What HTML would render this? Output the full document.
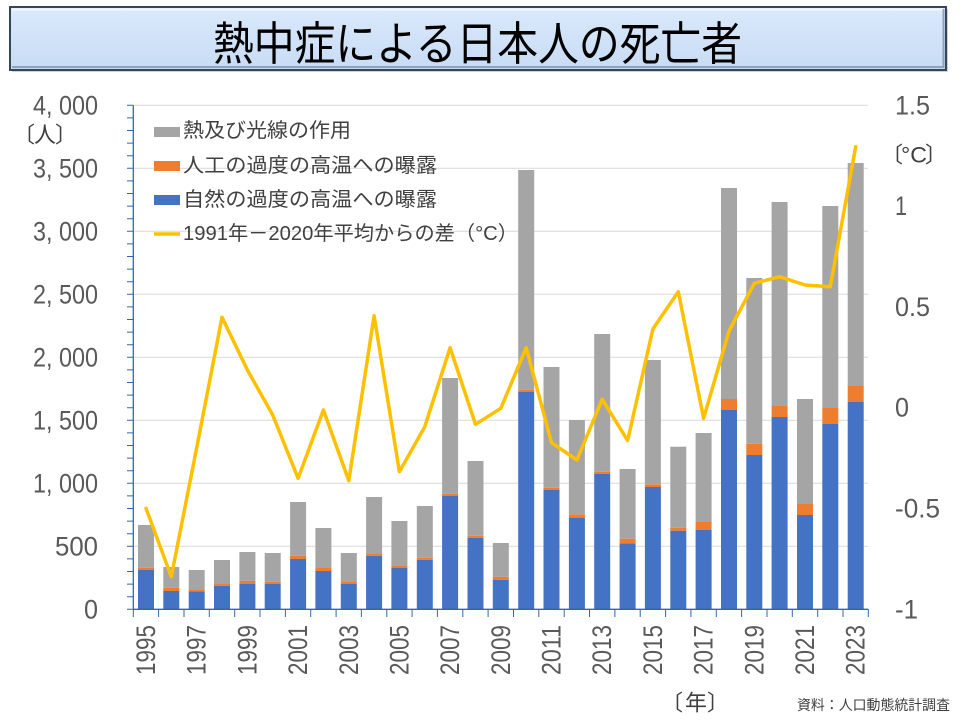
<!DOCTYPE html>
<html>
<head>
<meta charset="utf-8">
<style>
html,body{margin:0;padding:0;background:#fff;}
svg{display:block;}
.jp{font-family:"Liberation Sans","Noto Sans CJK JP",sans-serif;}
.num{font-family:"Liberation Sans",sans-serif;fill:#595959;font-size:27px;}
</style>
</head>
<body>
<svg width="960" height="720" viewBox="0 0 960 720" xmlns="http://www.w3.org/2000/svg">
<defs>
<linearGradient id="tg" x1="0" y1="0" x2="0" y2="1">
<stop offset="0" stop-color="#dbe9fb"/>
<stop offset="1" stop-color="#c7dcf5"/>
</linearGradient>
</defs>

<!-- Title box -->
<rect x="12" y="9" width="936" height="63" fill="#9aa6b4" opacity="0.5"/>
<rect x="10" y="7" width="936" height="63" fill="url(#tg)" stroke="#34465a" stroke-width="2"/>
<line x1="12" y1="9.5" x2="944" y2="9.5" stroke="#f4f8fe" stroke-width="2"/>
<line x1="12" y1="67" x2="944" y2="67" stroke="#8ea2bb" stroke-width="2"/>
<line x1="943.5" y1="9" x2="943.5" y2="68" stroke="#8ea2bb" stroke-width="2"/>
<text x="477.5" y="44" class="jp" font-size="46" fill="#000" text-anchor="middle" dominant-baseline="central" textLength="529" lengthAdjust="spacingAndGlyphs">熱中症による日本人の死亡者</text>

<!-- Gridlines -->
<g stroke="#d9d9d9" stroke-width="1">
<line x1="133" y1="105.3" x2="868" y2="105.3"/>
<line x1="133" y1="168.3" x2="868" y2="168.3"/>
<line x1="133" y1="231.3" x2="868" y2="231.3"/>
<line x1="133" y1="294.3" x2="868" y2="294.3"/>
<line x1="133" y1="357.3" x2="868" y2="357.3"/>
<line x1="133" y1="420.3" x2="868" y2="420.3"/>
<line x1="133" y1="483.3" x2="868" y2="483.3"/>
<line x1="133" y1="546.3" x2="868" y2="546.3"/>
</g>

<!-- Bars: blue -->
<g fill="#4472c4">
<rect x="138.0" y="570" width="16" height="39.3"/>
<rect x="163.3" y="591" width="16" height="18.3"/>
<rect x="188.7" y="591.3" width="16" height="18"/>
<rect x="214.0" y="585.7" width="16" height="23.6"/>
<rect x="239.4" y="584" width="16" height="25.3"/>
<rect x="264.7" y="584" width="16" height="25.3"/>
<rect x="290.1" y="559" width="16" height="50.3"/>
<rect x="315.4" y="571" width="16" height="38.3"/>
<rect x="340.8" y="584" width="16" height="25.3"/>
<rect x="366.1" y="555.7" width="16" height="53.6"/>
<rect x="391.4" y="568" width="16" height="41.3"/>
<rect x="416.8" y="559.7" width="16" height="49.6"/>
<rect x="442.1" y="496" width="16" height="113.3"/>
<rect x="467.5" y="537.7" width="16" height="71.6"/>
<rect x="492.8" y="579.7" width="16" height="29.6"/>
<rect x="518.2" y="392" width="16" height="217.3"/>
<rect x="543.5" y="490" width="16" height="119.3"/>
<rect x="568.9" y="518" width="16" height="91.3"/>
<rect x="594.2" y="474" width="16" height="135.3"/>
<rect x="619.6" y="543.3" width="16" height="66"/>
<rect x="644.9" y="487" width="16" height="122.3"/>
<rect x="670.3" y="530.7" width="16" height="78.6"/>
<rect x="695.6" y="530" width="16" height="79.3"/>
<rect x="721.0" y="410" width="16" height="199.3"/>
<rect x="746.3" y="455" width="16" height="154.3"/>
<rect x="771.6" y="417" width="16" height="192.3"/>
<rect x="797.0" y="515" width="16" height="94.3"/>
<rect x="822.3" y="424" width="16" height="185.3"/>
<rect x="847.7" y="402" width="16" height="207.3"/>
</g>
<!-- Bars: orange -->
<g fill="#ed7d31">
<rect x="138.0" y="567.7" width="16" height="2.3"/>
<rect x="163.3" y="587.7" width="16" height="3.3"/>
<rect x="188.7" y="590" width="16" height="1.3"/>
<rect x="214.0" y="584" width="16" height="1.7"/>
<rect x="239.4" y="580.7" width="16" height="3.3"/>
<rect x="264.7" y="581.7" width="16" height="2.3"/>
<rect x="290.1" y="555.7" width="16" height="3.3"/>
<rect x="315.4" y="568" width="16" height="3"/>
<rect x="340.8" y="581.3" width="16" height="2.7"/>
<rect x="366.1" y="554" width="16" height="1.7"/>
<rect x="391.4" y="566" width="16" height="2"/>
<rect x="416.8" y="557.7" width="16" height="2"/>
<rect x="442.1" y="493.7" width="16" height="2.3"/>
<rect x="467.5" y="535.7" width="16" height="2"/>
<rect x="492.8" y="576.7" width="16" height="3"/>
<rect x="518.2" y="389.7" width="16" height="2.3"/>
<rect x="543.5" y="487.7" width="16" height="2.3"/>
<rect x="568.9" y="514.3" width="16" height="3.7"/>
<rect x="594.2" y="471.7" width="16" height="2.3"/>
<rect x="619.6" y="538.7" width="16" height="4.6"/>
<rect x="644.9" y="484.3" width="16" height="2.7"/>
<rect x="670.3" y="527.7" width="16" height="3"/>
<rect x="695.6" y="522" width="16" height="8"/>
<rect x="721.0" y="399" width="16" height="11"/>
<rect x="746.3" y="443.7" width="16" height="11.3"/>
<rect x="771.6" y="406" width="16" height="11"/>
<rect x="797.0" y="504" width="16" height="11"/>
<rect x="822.3" y="408" width="16" height="16"/>
<rect x="847.7" y="386" width="16" height="16"/>
</g>
<!-- Bars: gray -->
<g fill="#a5a5a5">
<rect x="138.0" y="525" width="16" height="42.7"/>
<rect x="163.3" y="567" width="16" height="20.7"/>
<rect x="188.7" y="570" width="16" height="20"/>
<rect x="214.0" y="560" width="16" height="24"/>
<rect x="239.4" y="552" width="16" height="28.7"/>
<rect x="264.7" y="553" width="16" height="28.7"/>
<rect x="290.1" y="502" width="16" height="53.7"/>
<rect x="315.4" y="528" width="16" height="40"/>
<rect x="340.8" y="553" width="16" height="28.3"/>
<rect x="366.1" y="497" width="16" height="57"/>
<rect x="391.4" y="521" width="16" height="45"/>
<rect x="416.8" y="506" width="16" height="51.7"/>
<rect x="442.1" y="378" width="16" height="115.7"/>
<rect x="467.5" y="461" width="16" height="74.7"/>
<rect x="492.8" y="543" width="16" height="33.7"/>
<rect x="518.2" y="170" width="16" height="219.7"/>
<rect x="543.5" y="367" width="16" height="120.7"/>
<rect x="568.9" y="420" width="16" height="94.3"/>
<rect x="594.2" y="334" width="16" height="137.7"/>
<rect x="619.6" y="469" width="16" height="69.7"/>
<rect x="644.9" y="360" width="16" height="124.3"/>
<rect x="670.3" y="446.7" width="16" height="81"/>
<rect x="695.6" y="433" width="16" height="89"/>
<rect x="721.0" y="188" width="16" height="211"/>
<rect x="746.3" y="278" width="16" height="165.7"/>
<rect x="771.6" y="202" width="16" height="204"/>
<rect x="797.0" y="399" width="16" height="105"/>
<rect x="822.3" y="206" width="16" height="202"/>
<rect x="847.7" y="163" width="16" height="223"/>
</g>

<!-- Line -->
<polyline fill="none" stroke="#ffc000" stroke-width="3.5" stroke-linejoin="round" stroke-linecap="round"
points="146.0,508.3 171.3,576.7 196.7,447.7 222.0,317.3 247.4,370 272.7,415 298.1,478.3 323.4,410 348.8,480.7 374.1,315.7 399.4,471.7 424.8,426.7 450.1,347.7 475.5,424.3 500.8,408.3 526.2,347.7 551.5,442.7 576.9,460 602.2,399.3 627.6,440.5 652.9,329 678.3,291.7 703.6,418.3 729.0,331 754.3,283.3 779.6,276.7 805.0,285 830.3,286.7 855.7,146.7"/>

<!-- Left axis -->
<g stroke="#3565b0" stroke-width="1.3">
<line x1="133.3" y1="105.3" x2="133.3" y2="609.3"/>
<line x1="133" y1="609.3" x2="868" y2="609.3"/>
</g>
<g stroke="#3565b0" stroke-width="1">
<path d="M127 609.3H133M127 596.7H133M127 584.1H133M127 571.5H133M127 558.9H133M127 546.3H133M127 533.7H133M127 521.1H133M127 508.5H133M127 495.9H133M127 483.3H133M127 470.7H133M127 458.1H133M127 445.5H133M127 432.9H133M127 420.3H133M127 407.7H133M127 395.1H133M127 382.5H133M127 369.9H133M127 357.3H133M127 344.7H133M127 332.1H133M127 319.5H133M127 306.9H133M127 294.3H133M127 281.7H133M127 269.1H133M127 256.5H133M127 243.9H133M127 231.3H133M127 218.7H133M127 206.1H133M127 193.5H133M127 180.9H133M127 168.3H133M127 155.7H133M127 143.1H133M127 130.5H133M127 117.9H133M127 105.3H133"/>
<path d="M133.3 609V617M158.6 609V617M184.0 609V617M209.3 609V617M234.7 609V617M260.0 609V617M285.4 609V617M310.7 609V617M336.1 609V617M361.4 609V617M386.8 609V617M412.1 609V617M437.4 609V617M462.8 609V617M488.1 609V617M513.5 609V617M538.8 609V617M564.2 609V617M589.5 609V617M614.9 609V617M640.2 609V617M665.6 609V617M690.9 609V617M716.3 609V617M741.6 609V617M767.0 609V617M792.3 609V617M817.7 609V617M843.0 609V617M868.3 609V617"/>
</g>

<!-- Left labels -->
<g class="num" text-anchor="end" dominant-baseline="central">
<text x="98" y="105.3" textLength="65" lengthAdjust="spacingAndGlyphs">4, 000</text>
<text x="98" y="168.3" textLength="65" lengthAdjust="spacingAndGlyphs">3, 500</text>
<text x="98" y="231.3" textLength="65" lengthAdjust="spacingAndGlyphs">3, 000</text>
<text x="98" y="294.3" textLength="65" lengthAdjust="spacingAndGlyphs">2, 500</text>
<text x="98" y="357.3" textLength="65" lengthAdjust="spacingAndGlyphs">2, 000</text>
<text x="98" y="420.3" textLength="65" lengthAdjust="spacingAndGlyphs">1, 500</text>
<text x="98" y="483.3" textLength="65" lengthAdjust="spacingAndGlyphs">1, 000</text>
<text x="98" y="546.3" textLength="43" lengthAdjust="spacingAndGlyphs">500</text>
<text x="98" y="609.3" textLength="14" lengthAdjust="spacingAndGlyphs">0</text>
</g>
<g class="jp" font-size="22" fill="#404040" dominant-baseline="central" text-anchor="middle">
<text x="24" y="135">〔</text>
<text x="45" y="135">人</text>
<text x="66" y="135">〕</text>
</g>

<!-- Right labels -->
<g class="num" text-anchor="start" dominant-baseline="central">
<text x="895" y="105.3" textLength="35" lengthAdjust="spacingAndGlyphs">1.5</text>
<text x="895" y="206.1" textLength="12" lengthAdjust="spacingAndGlyphs">1</text>
<text x="895" y="306.9" textLength="35" lengthAdjust="spacingAndGlyphs">0.5</text>
<text x="895" y="407.7" textLength="14" lengthAdjust="spacingAndGlyphs">0</text>
<text x="895" y="508.5" textLength="45" lengthAdjust="spacingAndGlyphs">-0.5</text>
<text x="895" y="609.3" textLength="23" lengthAdjust="spacingAndGlyphs">-1</text>
</g>
<g class="jp" font-size="22" fill="#404040" dominant-baseline="central">
<text x="892" y="155" text-anchor="middle">〔</text>
<text x="901" y="155" textLength="26" lengthAdjust="spacingAndGlyphs">°C</text>
<text x="936" y="155" text-anchor="middle">〕</text>
</g>

<!-- Year labels -->
<g class="num" text-anchor="end" dominant-baseline="central">
<text transform="translate(146.0,625) rotate(-90)" textLength="50" lengthAdjust="spacingAndGlyphs">1995</text>
<text transform="translate(196.7,625) rotate(-90)" textLength="50" lengthAdjust="spacingAndGlyphs">1997</text>
<text transform="translate(247.4,625) rotate(-90)" textLength="50" lengthAdjust="spacingAndGlyphs">1999</text>
<text transform="translate(298.1,625) rotate(-90)" textLength="50" lengthAdjust="spacingAndGlyphs">2001</text>
<text transform="translate(348.8,625) rotate(-90)" textLength="50" lengthAdjust="spacingAndGlyphs">2003</text>
<text transform="translate(399.4,625) rotate(-90)" textLength="50" lengthAdjust="spacingAndGlyphs">2005</text>
<text transform="translate(450.1,625) rotate(-90)" textLength="50" lengthAdjust="spacingAndGlyphs">2007</text>
<text transform="translate(500.8,625) rotate(-90)" textLength="50" lengthAdjust="spacingAndGlyphs">2009</text>
<text transform="translate(551.5,625) rotate(-90)" textLength="50" lengthAdjust="spacingAndGlyphs">2011</text>
<text transform="translate(602.2,625) rotate(-90)" textLength="50" lengthAdjust="spacingAndGlyphs">2013</text>
<text transform="translate(652.9,625) rotate(-90)" textLength="50" lengthAdjust="spacingAndGlyphs">2015</text>
<text transform="translate(703.6,625) rotate(-90)" textLength="50" lengthAdjust="spacingAndGlyphs">2017</text>
<text transform="translate(754.3,625) rotate(-90)" textLength="50" lengthAdjust="spacingAndGlyphs">2019</text>
<text transform="translate(805.0,625) rotate(-90)" textLength="50" lengthAdjust="spacingAndGlyphs">2021</text>
<text transform="translate(855.7,625) rotate(-90)" textLength="50" lengthAdjust="spacingAndGlyphs">2023</text>
</g>

<g class="jp" font-size="22" fill="#404040" dominant-baseline="central" text-anchor="middle">
<text x="672" y="703">〔</text>
<text x="696" y="703">年</text>
<text x="718" y="703">〕</text>
</g>
<text x="797" y="705" class="jp" font-size="14" fill="#404040" dominant-baseline="central" textLength="153" lengthAdjust="spacingAndGlyphs">資料：人口動態統計調査</text>

<!-- Legend -->
<rect x="154" y="127" width="26" height="10" fill="#a5a5a5"/>
<rect x="154" y="161" width="26" height="10" fill="#ed7d31"/>
<rect x="154" y="195" width="26" height="10" fill="#4472c4"/>
<line x1="154" y1="234" x2="180" y2="234" stroke="#ffc000" stroke-width="3.5"/>
<g class="jp" font-size="20" fill="#404040" dominant-baseline="central">
<text x="183" y="131" textLength="168" lengthAdjust="spacingAndGlyphs">熱及び光線の作用</text>
<text x="183" y="166" textLength="254" lengthAdjust="spacingAndGlyphs">人工の過度の高温への曝露</text>
<text x="183" y="200" textLength="254" lengthAdjust="spacingAndGlyphs">自然の過度の高温への曝露</text>
<text x="183" y="234" textLength="335" lengthAdjust="spacingAndGlyphs">1991年－2020年平均からの差（°C）</text>
</g>
</svg>
</body>
</html>
